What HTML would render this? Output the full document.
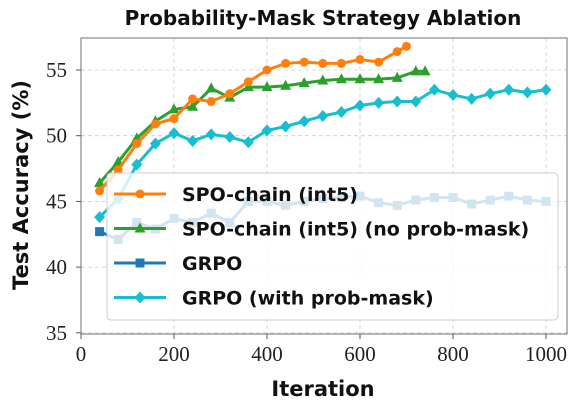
<!DOCTYPE html>
<html><head><meta charset="utf-8"><style>
body{margin:0;background:#fff;width:576px;height:404px;overflow:hidden}
svg text{font-family:"DejaVu Sans","Liberation Sans",sans-serif}
.tick{font-family:"Liberation Serif",serif;font-size:21px;fill:#222}
</style></head><body>
<svg id="chart" width="576" height="404"></svg>
<script>
const iters=[40,80,120,160,200,240,280,320,360,400,440,480,520,560,600,640,680,720,760,800,840,880,920,960,1000];
const spoIters=[40,80,120,160,200,240,280,320,360,400,440,480,520,560,600,640,680,700];
const spoVals=[45.8,47.4,49.4,50.9,51.3,52.8,52.6,53.2,54.1,55.0,55.5,55.6,55.5,55.5,55.8,55.6,56.4,56.8];
const spoNmIters=[40,80,120,160,200,240,280,320,360,400,440,480,520,560,600,640,680,720,740];
const spoNmVals=[46.4,48.0,49.8,51.1,52.0,52.2,53.6,52.9,53.7,53.7,53.8,54.0,54.2,54.3,54.3,54.3,54.4,54.9,54.9];
const grpoVals=[42.7,42.1,43.4,42.9,43.7,43.4,44.1,43.4,45.0,45.0,44.7,45.0,45.2,45.3,45.4,44.9,44.7,45.1,45.3,45.3,44.8,45.1,45.4,45.1,45.0];
const grpoPmVals=[43.8,45.2,47.8,49.4,50.2,49.6,50.1,49.9,49.5,50.4,50.7,51.1,51.5,51.8,52.3,52.5,52.6,52.6,53.5,53.1,52.8,53.2,53.5,53.3,53.5];
const xTicks=[0,200,400,600,800,1000];
const yTicks=[35,40,45,50,55];

const NS="http://www.w3.org/2000/svg";
const svg=document.getElementById('chart');
const X=v=>81+v*0.465;
const Y=v=>70-(v-55)*13.14;
const L=81,R=567,T=38,B=334;
function el(t,a,p){const e=document.createElementNS(NS,t);for(const k in a)e.setAttribute(k,a[k]);(p||svg).appendChild(e);return e;}

for(const t of xTicks){const g=el('line',{x1:X(t),x2:X(t),y1:T,y2:B,stroke:'#ccc','stroke-dasharray':'4,3','stroke-width':0.8});

}
for(const t of yTicks){const g=el('line',{x1:L,x2:R,y1:Y(t),y2:Y(t),stroke:'#ccc','stroke-dasharray':'4,3','stroke-width':0.8});

}

function marker(shape,x,y,c,g){
  if(shape==='o')return el('circle',{cx:x,cy:y,r:4.5,fill:c},g);
  if(shape==='^')return el('polygon',{points:`${x},${y-6} ${x-5.5},${y+4} ${x+5.5},${y+4}`,fill:c},g);
  if(shape==='s')return el('rect',{x:x-4.5,y:y-4.5,width:9,height:9,fill:c},g);
  return el('polygon',{points:`${x},${y-6} ${x+5.5},${y} ${x},${y+6} ${x-5.5},${y}`,fill:c},g);
}
function series(name,xs,ys,c,shape){
  const g=el('g',{});
  
  
  el('polyline',{points:xs.map((x,i)=>X(x)+','+Y(ys[i])).join(' '),fill:'none',stroke:c,'stroke-width':3},g);
  xs.forEach((x,i)=>{const m=marker(shape,X(x),Y(ys[i]),c,g);
    
    });
}
series('series-grpo',iters,grpoVals,'#1f77b4','s');
series('series-grpo-prob-mask',iters,grpoPmVals,'#17becf','d');
series('series-spo-chain-no-mask',spoNmIters,spoNmVals,'#2ca02c','^');
series('series-spo-chain',spoIters,spoVals,'#ff7f0e','o');

const fr=el('rect',{x:L,y:T,width:R-L,height:B-T,fill:'none',stroke:'#888','stroke-width':1.2});



for(const t of xTicks){el('line',{x1:X(t),x2:X(t),y1:B,y2:B+5,stroke:'#555'});
const tx=el('text',{x:X(t),y:B+27,'text-anchor':'middle',class:'tick'});tx.textContent=t;

}
for(const t of yTicks){el('line',{x1:L-5,x2:L,y1:Y(t),y2:Y(t),stroke:'#555'});
const tx=el('text',{x:L-14,y:Y(t)+7,'text-anchor':'end',class:'tick'});tx.textContent=t;

}

const lg=el('g',{});


el('rect',{x:107,y:173,width:451,height:147,rx:4,fill:'rgba(255,255,255,0.8)',stroke:'#ccc'},lg);
const items=[['SPO-chain (int5)','#ff7f0e','o'],['SPO-chain (int5) (no prob-mask)','#2ca02c','^'],['GRPO','#1f77b4','s'],['GRPO (with prob-mask)','#17becf','d']];
items.forEach((it,i)=>{const y=194+i*34.5;const g=el('g',{},lg);


el('line',{x1:114,x2:166,y1:y,y2:y,stroke:it[1],'stroke-width':3},g);marker(it[2],140,y,it[1],g);
const t=el('text',{x:182,y:y+7,'font-size':19,'font-weight':'bold',fill:'#111'},g);t.textContent=it[0];});

const ti=el('text',{x:323,y:25,'text-anchor':'middle','font-size':20,'font-weight':'bold',fill:'#111'});ti.textContent='Probability-Mask Strategy Ablation';


const xl=el('text',{x:323,y:396,'text-anchor':'middle','font-size':21,'font-weight':'bold',fill:'#111'});xl.textContent='Iteration';


const yl=el('text',{x:0,y:0,'text-anchor':'middle','font-size':21,'font-weight':'bold',fill:'#111',transform:'translate(28,185) rotate(-90)'});yl.textContent='Test Accuracy (%)';


</script>
</body></html>
